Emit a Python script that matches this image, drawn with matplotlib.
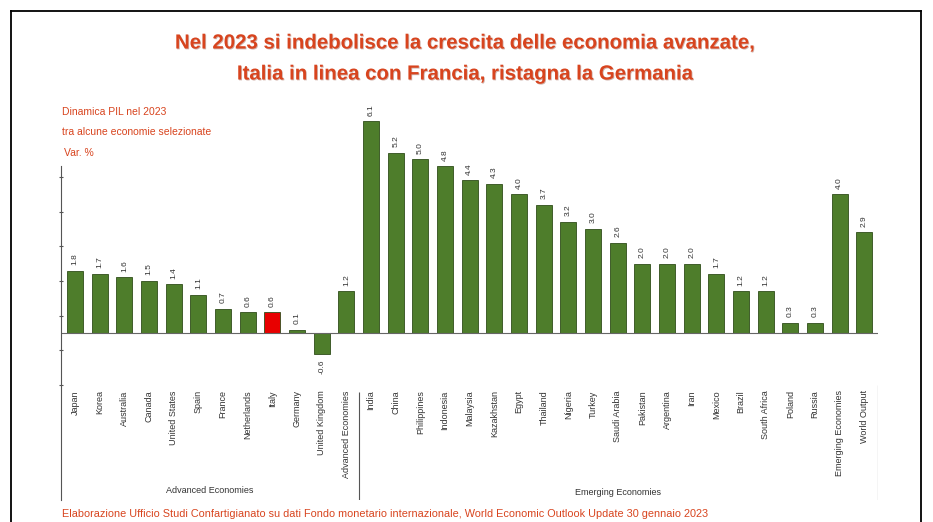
import matplotlib
matplotlib.use("Agg")
import matplotlib.pyplot as plt
import matplotlib.patheffects as pe
from matplotlib.lines import Line2D

# Dati: variazione % PIL 2023 (FMI, WEO Update gennaio 2023)
countries = ["Japan", "Korea", "Australia", "Canada", "United States", "Spain",
             "France", "Netherlands", "Italy", "Germany", "United Kingdom",
             "Advanced Economies",
             "India", "China", "Philippines", "Indonesia", "Malaysia", "Kazakhstan",
             "Egypt", "Thailand", "Nigeria", "Turkey", "Saudi Arabia", "Pakistan",
             "Argentina", "Iran", "Mexico", "Brazil", "South Africa", "Poland",
             "Russia", "Emerging Economies", "World Output"]
growth = [1.8, 1.7, 1.6, 1.5, 1.4, 1.1, 0.7, 0.6, 0.6, 0.1, -0.6, 1.2,
          6.1, 5.2, 5.0, 4.8, 4.4, 4.3, 4.0, 3.7, 3.2, 3.0, 2.6, 2.0,
          2.0, 2.0, 1.7, 1.2, 1.2, 0.3, 0.3, 4.0, 2.9]
highlight = "Italy"
groups = ["Advanced Economies", "Emerging Economies"]

red = "#d8441e"
green = "#4e7d2b"
body_font = ["Liberation Sans", "DejaVu Sans"]

fig = plt.figure(figsize=(9.33, 5.22), dpi=100)
W, H = 933, 522

# cornice nera (sinistra, alto, destra)
for xs, ys in [([11, 11], [0, 511]), ([11, 921], [511, 511]), ([921, 921], [0, 511])]:
    fig.add_artist(Line2D([x / W for x in xs], [y / H for y in ys],
                          color="black", lw=1.3, transform=fig.transFigure))

# titolo
shadow = [pe.SimplePatchShadow(offset=(0.6, -0.6), shadow_rgbFace="#7a2410", alpha=0.35), pe.Normal()]
for yy, line in [(43, "Nel 2023 si indebolisce la crescita delle economia avanzate,"),
                 (74, "Italia in linea con Francia, ristagna la Germania")]:
    fig.text(464 / W, 1 - yy / H, line, ha="center", va="center", fontsize=14.7,
             fontweight="bold", color=red, family=body_font, path_effects=shadow)

# sottotitoli
fig.text(62 / W, 1 - 112 / H, "Dinamica PIL nel 2023", fontsize=7.5, color=red,
         va="center", family=body_font)
fig.text(62 / W, 1 - 132 / H, "tra alcune economie selezionate", fontsize=7.5, color=red,
         va="center", family=body_font)
fig.text(64 / W, 1 - 153 / H, "Var. %", fontsize=7.5, color=red, va="center", family=body_font)

# nota in basso
fig.text(62 / W, 1 - 514 / H,
         "Elaborazione Ufficio Studi Confartigianato su dati Fondo monetario internazionale, "
         "World Economic Outlook Update 30 gennaio 2023",
         fontsize=7.8, color=red, va="center", family=body_font)

ax = fig.add_axes([61.5 / W, 1 - 499.6 / H, (878 - 61.5) / W, (499.6 - 97) / H])
x = list(range(len(countries)))
colors = ["#e80000" if c == highlight else green for c in countries]
bars = ax.bar(x, growth, width=0.65, color=colors, edgecolor="#2f4d1a", linewidth=0.6)

for xi, v in zip(x, growth):
    off = 4 if v >= 0 else -4
    ax.annotate(f"{v:.1f}", (xi, v), xytext=(0, off), textcoords="offset points",
                ha="center", va="bottom" if v >= 0 else "top", rotation=90,
                fontsize=6, color="#333333", family=body_font)

ax.set_xlim(-0.55, len(countries) - 0.45)
ax.set_ylim(-4.8, 6.8)
ax.axhline(0, color="#666666", lw=0.8)

for s in ["top", "right", "bottom"]:
    ax.spines[s].set_visible(False)
ax.spines["left"].set_bounds(-4.8, 4.8)
ax.spines["left"].set_color("#555555")
ax.set_xticks([])
ax.set_yticks([-1.5, -0.5, 0.5, 1.5, 2.5, 3.5, 4.5])
ax.set_yticklabels([])
ax.tick_params(axis="y", length=3, direction="inout", color="#555555")

# etichette categorie
for xi, c in zip(x, countries):
    ax.text(xi, -1.65, c, rotation=90, ha="center", va="top",
            fontsize=6.5, color="#333333", family=body_font)

# separatori di gruppo
ax.vlines([11.5], -4.8, -1.7, color="#555555", lw=0.8)
ax.vlines([32.55], -4.8, -1.5, color="#555555", lw=0.8)
ax.text((-0.55 + 11.5) / 2, -4.55, groups[0], ha="center", va="center",
        fontsize=6.5, color="#333333", family=body_font)
ax.text((11.5 + 32.55) / 2, -4.6, groups[1], ha="center", va="center",
        fontsize=6.5, color="#333333", family=body_font)

fig.savefig("out.png", dpi=100)
